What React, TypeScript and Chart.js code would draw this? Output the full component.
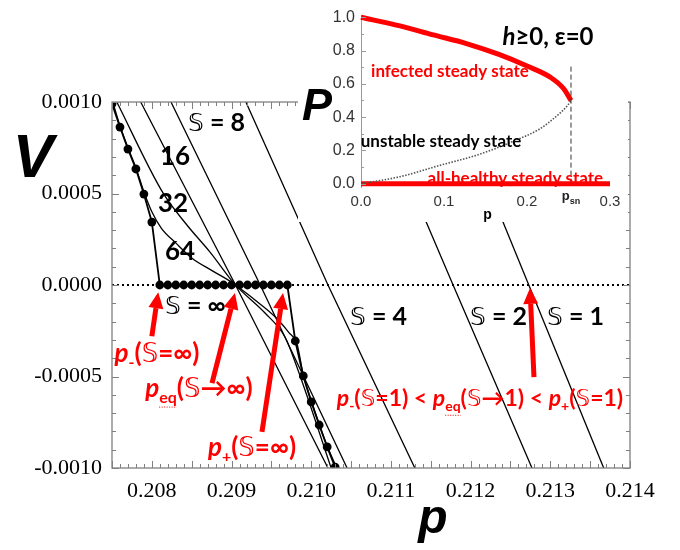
import React, { useEffect, useRef } from "react";
import { Chart, registerables } from "chart.js";
Chart.register(...registerables);

// ---------------- main chart data ----------------
const P_RANGE = [0.2075, 0.214];
const V_RANGE = [-0.001, 0.001];
const P_TICK_STEP = 0.001;
const V_TICK_STEP = 0.0005;
const MINOR_STEP = 0.0001;

const ZERO_P = [0.2075, 0.214];
const ZERO_V = [0, 0];

// S = infinity (dots)
const SINF_P = [
  0.2075, 0.2076, 0.2077, 0.2078, 0.2079, 0.208, 0.2081, 0.2082, 0.2083, 0.2084,
  0.2085, 0.2086, 0.2087, 0.2088, 0.2089, 0.209, 0.2091, 0.2092, 0.2093, 0.2094,
  0.2095, 0.2096, 0.2097, 0.2098, 0.2099, 0.21, 0.2101, 0.2102, 0.2103,
];
const SINF_V = [
  0.00099, 0.000863, 0.000743, 0.000634, 0.000497, 0.000344, 0, 0, 0, 0,
  0, 0, 0, 0, 0, 0, 0, 0, 0, 0,
  0, 0, 0, -0.000306, -0.000497, -0.000639, -0.000765, -0.000885, -0.000995,
];

const S64_P = [
  0.20751, 0.2076, 0.2077, 0.2078, 0.2079, 0.208, 0.20812, 0.2083, 0.2085, 0.20875,
  0.20902, 0.20908, 0.20929, 0.20955, 0.20972, 0.20982, 0.2099, 0.21, 0.2101, 0.2102, 0.21032,
];
const S64_V = [
  0.001, 0.00087, 0.00075, 0.00064, 0.00051, 0.0004, 0.00031, 0.00023, 0.000148, 0.00008,
  0.00001, -0.00001, -0.00008, -0.000175, -0.00026, -0.00032, -0.00049, -0.00063, -0.00076, -0.00088, -0.001,
];

const S32_P = [0.20756, 0.20814, 0.20844, 0.20873, 0.20904, 0.20942, 0.20967, 0.20982, 0.21025];
const S32_V = [0.001, 0.000503, 0.000328, 0.00018, 0.000005, -0.000153, -0.000284, -0.000448, -0.001];

const S16_P = [0.20786, 0.20905, 0.21021];
const S16_V = [0.001, 0, -0.001];
const S8_P = [0.20824, 0.20936, 0.21045];
const S8_V = [0.001, 0, -0.001];
const S4_P = [0.20918, 0.21021, 0.2113];
const S4_V = [0.001, 0, -0.001];
const S2_P = [0.2108, 0.21178, 0.21277];
const S2_V = [0.001, 0, -0.001];
const S1_P = [0.21179, 0.21273, 0.21367];
const S1_V = [0.001, 0, -0.001];

// ---------------- inset data ----------------
const IN_P_RANGE = [0, 0.3];
const IN_Y_RANGE = [-0.02, 1.01];
const INFECTED_P = [0, 0.047, 0.087, 0.127, 0.167, 0.2, 0.228, 0.244, 0.253];
const INFECTED_V = [1.0, 0.948, 0.894, 0.842, 0.775, 0.707, 0.64, 0.572, 0.5];
const UNSTABLE_P = [0, 0.047, 0.095, 0.143, 0.183, 0.216, 0.236, 0.248, 0.253];
const UNSTABLE_V = [0, 0.042, 0.11, 0.177, 0.254, 0.331, 0.408, 0.465, 0.5];
const HEALTHY_P = [0, 0.3];
const HEALTHY_V = [0, 0];
const PSN = 0.253;
const PSN_LINE_V = [0, 0.72];

// ---------------- styling ----------------
const RED = "#ff0000";
const SANS = "Lato, 'Liberation Sans', sans-serif";
const ARIAL = "'Liberation Sans', Arial, sans-serif";
const SERIF = "'Liberation Serif', 'Times New Roman', serif";
const DSF = "'DejaVu Sans', sans-serif";

type Seg = { t: string; i?: boolean; sub?: boolean; S?: boolean; u?: boolean };

function segFont(s: Seg, size: number) {
  if (s.S) return `${Math.round(size * 1.0)}px ${DSF}`;
  const sz = s.sub ? Math.round(size * 0.62) : size;
  return `${s.i ? "italic " : ""}bold ${sz}px ${SANS}`;
}

function drawRich(ctx: CanvasRenderingContext2D, segs: Seg[], x: number, yMid: number, size: number, color: string, align: "left" | "center") {
  let total = 0;
  const ws = segs.map((s) => {
    ctx.font = segFont(s, size);
    const w = ctx.measureText(s.t).width;
    total += w;
    return w;
  });
  let cx = align === "center" ? x - total / 2 : x;
  const base = yMid + size * 0.36;
  ctx.fillStyle = color;
  ctx.textAlign = "left";
  ctx.textBaseline = "alphabetic";
  segs.forEach((s, k) => {
    ctx.font = segFont(s, size);
    const by = s.sub ? base + size * 0.2 : base;
    ctx.fillText(s.t, cx, by);
    if (s.u) {
      // faint dotted underline (spell-check style) under subscript
      ctx.save();
      ctx.strokeStyle = color;
      ctx.lineWidth = 1;
      ctx.setLineDash([1, 1.5]);
      ctx.beginPath();
      ctx.moveTo(cx, by + 4.5);
      ctx.lineTo(cx + ws[k], by + 4.5);
      ctx.stroke();
      ctx.restore();
    }
    cx += ws[k];
  });
}

function arrow(ctx: CanvasRenderingContext2D, x1: number, y1: number, x2: number, y2: number) {
  const w = 5, headLen = 16, headW = 15;
  const ang = Math.atan2(y2 - y1, x2 - x1);
  const bx = x2 - headLen * Math.cos(ang), by = y2 - headLen * Math.sin(ang);
  ctx.strokeStyle = RED;
  ctx.fillStyle = RED;
  ctx.lineWidth = w;
  ctx.lineCap = "butt";
  ctx.beginPath();
  ctx.moveTo(x1, y1);
  ctx.lineTo(bx, by);
  ctx.stroke();
  ctx.beginPath();
  ctx.moveTo(x2, y2);
  ctx.lineTo(bx + (headW / 2) * Math.sin(ang), by - (headW / 2) * Math.cos(ang));
  ctx.lineTo(bx - (headW / 2) * Math.sin(ang), by + (headW / 2) * Math.cos(ang));
  ctx.closePath();
  ctx.fill();
}

const pts = (xs: number[], ys: number[]) => xs.map((x, i) => ({ x, y: ys[i] }));

// annotations in data coordinates
const ARROWS = [
  { from: [0.208, -0.00028], to: [0.20808, -0.00004] },
  { from: [0.208755, -0.000536], to: [0.209043, -0.000044] },
  { from: [0.209382, -0.000803], to: [0.209646, -0.000044] },
  { from: [0.212795, -0.000503], to: [0.212745, -0.000016] },
];

const SS: Seg = { t: "𝕊", S: true };
const BLACK_LABELS: { at: number[]; segs: Seg[]; size: number }[] = [
  { at: [0.208454, 0.000891], segs: [SS, { t: " = 8" }], size: 25 },
  { at: [0.208102, 0.000705], segs: [{ t: "16" }], size: 26 },
  { at: [0.208077, 0.000448], segs: [{ t: "32" }], size: 26 },
  { at: [0.208165, 0.000186], segs: [{ t: "64" }], size: 26 },
  { at: [0.208165, -0.000109], segs: [SS, { t: " = ∞" }], size: 25 },
  { at: [0.210486, -0.00017], segs: [SS, { t: " = 4" }], size: 25 },
  { at: [0.211992, -0.000169], segs: [SS, { t: " = 2" }], size: 25 },
  { at: [0.212958, -0.000169], segs: [SS, { t: " = 1" }], size: 25 },
];

const RED_LABELS: { at: number[]; segs: Seg[]; size: number }[] = [
  { at: [0.208065, -0.000372], segs: [{ t: "p", i: true }, { t: "-", sub: true }, { t: "(" }, SS, { t: "=∞)" }], size: 26 },
  { at: [0.20859, -0.000563], segs: [{ t: "p", i: true }, { t: "eq", sub: true, u: true }, { t: "(" }, SS, { t: "→∞)" }], size: 26 },
  { at: [0.209257, -0.000885], segs: [{ t: "p", i: true }, { t: "+", sub: true }, { t: "(" }, SS, { t: "=∞)" }], size: 26 },
  {
    at: [0.212117, -0.000617],
    segs: [
      { t: "p", i: true }, { t: "-", sub: true }, { t: "(" }, SS, { t: "=1) < " },
      { t: "p", i: true }, { t: "eq", sub: true, u: true }, { t: "(" }, SS, { t: "→1) < " },
      { t: "p", i: true }, { t: "+", sub: true }, { t: "(" }, SS, { t: "=1)" },
    ],
    size: 23,
  },
];

const mainDecor = {
  id: "mainDecor",
  afterDraw(chart: any) {
    const { ctx, chartArea: a } = chart;
    const x = chart.scales.x, y = chart.scales.y;
    ctx.save();
    ctx.strokeStyle = "#808080";
    ctx.lineWidth = 1.3;
    ctx.strokeRect(a.left, a.top, a.right - a.left, a.bottom - a.top);
    ctx.lineWidth = 1;
    ctx.beginPath();
    const kx0 = Math.ceil(x.min / MINOR_STEP - 1e-6), kx1 = Math.floor(x.max / MINOR_STEP + 1e-6);
    for (let k = kx0; k <= kx1; k++) {
      const px = Math.round(x.getPixelForValue(k * MINOR_STEP)) + 0.5;
      const len = k % 5 === 0 ? 7 : 4;
      ctx.moveTo(px, a.bottom); ctx.lineTo(px, a.bottom - len);
      ctx.moveTo(px, a.top); ctx.lineTo(px, a.top + len);
    }
    const ky0 = Math.ceil(y.min / MINOR_STEP - 1e-6), ky1 = Math.floor(y.max / MINOR_STEP + 1e-6);
    for (let k = ky0; k <= ky1; k++) {
      const py = Math.round(y.getPixelForValue(k * MINOR_STEP)) + 0.5;
      const len = k % 5 === 0 ? 7 : 4;
      ctx.moveTo(a.left, py); ctx.lineTo(a.left + len, py);
      ctx.moveTo(a.right, py); ctx.lineTo(a.right - len, py);
    }
    ctx.stroke();

    for (const l of BLACK_LABELS) {
      drawRich(ctx, l.segs, x.getPixelForValue(l.at[0]), y.getPixelForValue(l.at[1]), l.size, "#000", "left");
    }
    for (const ar of ARROWS) {
      arrow(ctx, x.getPixelForValue(ar.from[0]), y.getPixelForValue(ar.from[1]), x.getPixelForValue(ar.to[0]), y.getPixelForValue(ar.to[1]));
    }
    for (const l of RED_LABELS) {
      drawRich(ctx, l.segs, x.getPixelForValue(l.at[0]), y.getPixelForValue(l.at[1]), l.size, RED, "center");
    }

    // axis titles
    ctx.fillStyle = "#000";
    ctx.textAlign = "center";
    ctx.textBaseline = "alphabetic";
    ctx.font = `italic bold 61px ${ARIAL}`;
    ctx.fillText("V", 33, 177);
    ctx.font = `italic bold 48px ${ARIAL}`;
    ctx.fillText("p", (a.left + a.right) / 2 + 62, 533);
    ctx.restore();
  },
};

const insetDecor = {
  id: "insetDecor",
  beforeDraw(chart: any) {
    const { ctx, width, height } = chart;
    ctx.save();
    ctx.fillStyle = "#fff";
    ctx.fillRect(0, 0, width, height);
    ctx.restore();
  },
  afterDraw(chart: any) {
    const { ctx, chartArea: a } = chart;
    const x = chart.scales.x, y = chart.scales.y;
    ctx.save();
    ctx.strokeStyle = "#9a9a9a";
    ctx.lineWidth = 1;
    ctx.beginPath();
    for (let k = 0; k <= 10; k++) {
      const py = Math.round(y.getPixelForValue(k * 0.1)) + 0.5;
      const len = k % 2 === 0 ? 5 : 3;
      ctx.moveTo(a.left, py); ctx.lineTo(a.left + len, py);
    }
    ctx.stroke();

    drawRich(ctx, [{ t: "h", i: true }, { t: "≥0, ε=0" }], x.getPixelForValue(0.2253), y.getPixelForValue(0.8825), 24, "#000", "center");
    drawRich(ctx, [{ t: "infected steady state" }], x.getPixelForValue(0.1072), y.getPixelForValue(0.68), 17, RED, "center");
    drawRich(ctx, [{ t: "unstable steady state" }], x.getPixelForValue(0.0964), y.getPixelForValue(0.2575), 17, "#000", "center");
    drawRich(ctx, [{ t: "all-healthy steady state" }], x.getPixelForValue(0.186), y.getPixelForValue(0.0376), 17, RED, "center");

    // p_sn tick label
    const psx = x.getPixelForValue(PSN);
    ctx.fillStyle = "#222";
    ctx.textBaseline = "alphabetic";
    ctx.textAlign = "left";
    ctx.font = `bold 13px ${ARIAL}`;
    const pw = ctx.measureText("p").width;
    ctx.font = `bold 9px ${ARIAL}`;
    const sw = ctx.measureText("sn").width;
    const left = psx - (pw + sw) / 2;
    ctx.font = `bold 13px ${ARIAL}`;
    ctx.fillText("p", left, a.bottom + 13);
    ctx.font = `bold 9px ${ARIAL}`;
    ctx.fillText("sn", left + pw, a.bottom + 17);

    // axis titles
    ctx.fillStyle = "#000";
    ctx.textAlign = "center";
    ctx.font = `bold 14px ${ARIAL}`;
    ctx.fillText("p", (a.left + a.right) / 2 + 2, a.bottom + 32);
    ctx.font = `italic bold 45px ${ARIAL}`;
    ctx.fillText("P", 19, 120);
    ctx.restore();
  },
};

function mainConfig(): any {
  const line = (label: string, xs: number[], ys: number[], extra: any = {}) => ({
    label, data: pts(xs, ys), borderColor: "#000", backgroundColor: "#000", borderWidth: 1.3,
    pointRadius: 0, showLine: true, fill: false, tension: 0, clip: 0, ...extra,
  });
  return {
    type: "scatter",
    data: {
      datasets: [
        line("zero", ZERO_P, ZERO_V, { borderDash: [2, 3], borderWidth: 2 }),
        line("S=∞", SINF_P, SINF_V, { borderWidth: 1.8, pointRadius: 4.4, pointBorderWidth: 0, pointBackgroundColor: "#000" }),
        line("S=64", S64_P, S64_V, { cubicInterpolationMode: "monotone" }),
        line("S=32", S32_P, S32_V, { cubicInterpolationMode: "monotone" }),
        line("S=16", S16_P, S16_V),
        line("S=8", S8_P, S8_V),
        line("S=4", S4_P, S4_V),
        line("S=2", S2_P, S2_V),
        line("S=1", S1_P, S1_V),
      ],
    },
    options: {
      animation: false,
      responsive: false,
      devicePixelRatio: 1,
      events: [],
      layout: { padding: { left: 0, top: 102, right: 50, bottom: 0 } },
      plugins: { legend: { display: false }, tooltip: { enabled: false } },
      scales: {
        x: {
          type: "linear", min: P_RANGE[0], max: P_RANGE[1],
          grid: { display: false, drawTicks: false }, border: { display: false },
          ticks: {
            stepSize: P_TICK_STEP, includeBounds: false, autoSkip: false, maxRotation: 0,
            callback: (v: number) => Number(v).toFixed(3),
            font: { family: SERIF, size: 22 }, color: "#000", padding: 10,
          },
          afterFit: (s: any) => { s.height = 82; },
        },
        y: {
          type: "linear", min: V_RANGE[0], max: V_RANGE[1],
          grid: { display: false, drawTicks: false }, border: { display: false },
          ticks: {
            stepSize: V_TICK_STEP, includeBounds: false, autoSkip: false,
            callback: (v: number) => (Math.abs(v) < 1e-12 ? 0 : Number(v)).toFixed(4),
            font: { family: SERIF, size: 22 }, color: "#000", padding: 10,
          },
          afterFit: (s: any) => { s.width = 112; },
        },
      },
    },
    plugins: [mainDecor],
  };
}

function insetConfig(): any {
  const line = (label: string, xs: number[], ys: number[], extra: any = {}) => ({
    label, data: pts(xs, ys), borderColor: RED, borderWidth: 5, pointRadius: 0,
    showLine: true, fill: false, tension: 0, clip: false, ...extra,
  });
  return {
    type: "scatter",
    data: {
      datasets: [
        line("psn", [PSN, PSN], PSN_LINE_V, { borderColor: "#333", borderWidth: 1, borderDash: [5, 3] }),
        line("unstable", UNSTABLE_P, UNSTABLE_V, { borderColor: "#555", borderWidth: 1.6, borderDash: [1.5, 1.5], cubicInterpolationMode: "monotone" }),
        line("healthy", HEALTHY_P, HEALTHY_V),
        line("infected", INFECTED_P, INFECTED_V, { cubicInterpolationMode: "monotone" }),
      ],
    },
    options: {
      animation: false,
      responsive: false,
      devicePixelRatio: 1,
      events: [],
      layout: { padding: { left: 0, top: 9, right: 18, bottom: 0 } },
      plugins: { legend: { display: false }, tooltip: { enabled: false } },
      scales: {
        x: {
          type: "linear", min: IN_P_RANGE[0], max: IN_P_RANGE[1],
          grid: { display: false, drawTicks: false }, border: { display: false },
          ticks: {
            stepSize: 0.1, includeBounds: false, autoSkip: false, maxRotation: 0,
            callback: (v: number) => Number(v).toFixed(1),
            font: { family: ARIAL, size: 15 }, color: "#333", padding: 6,
          },
          afterFit: (s: any) => { s.height = 35; },
        },
        y: {
          type: "linear", min: IN_Y_RANGE[0], max: IN_Y_RANGE[1],
          grid: { display: false, drawTicks: false }, border: { display: true, color: "#9a9a9a", width: 1 },
          ticks: {
            stepSize: 0.2, includeBounds: false, autoSkip: false,
            callback: (v: number) => (Math.abs(v) < 1e-9 ? 0 : Number(v)).toFixed(1),
            font: { family: ARIAL, size: 16 }, color: "#333", padding: 6,
          },
          afterFit: (s: any) => { s.width = 63; },
        },
      },
    },
    plugins: [insetDecor],
  };
}

export default function App() {
  const mainRef = useRef<HTMLCanvasElement>(null);
  const insetRef = useRef<HTMLCanvasElement>(null);
  useEffect(() => {
    const c1 = new Chart(mainRef.current as HTMLCanvasElement, mainConfig());
    const c2 = new Chart(insetRef.current as HTMLCanvasElement, insetConfig());
    return () => {
      c1.destroy();
      c2.destroy();
    };
  }, []);
  return (
    <div style={{ position: "absolute", left: 0, top: 0, width: 680, height: 550, background: "#fff" }}>
      <canvas ref={mainRef} width={680} height={550} style={{ position: "absolute", left: 0, top: 0, width: 680, height: 550 }} />
      <canvas ref={insetRef} width={330} height={222} style={{ position: "absolute", left: 298, top: 0, width: 330, height: 222 }} />
    </div>
  );
}
